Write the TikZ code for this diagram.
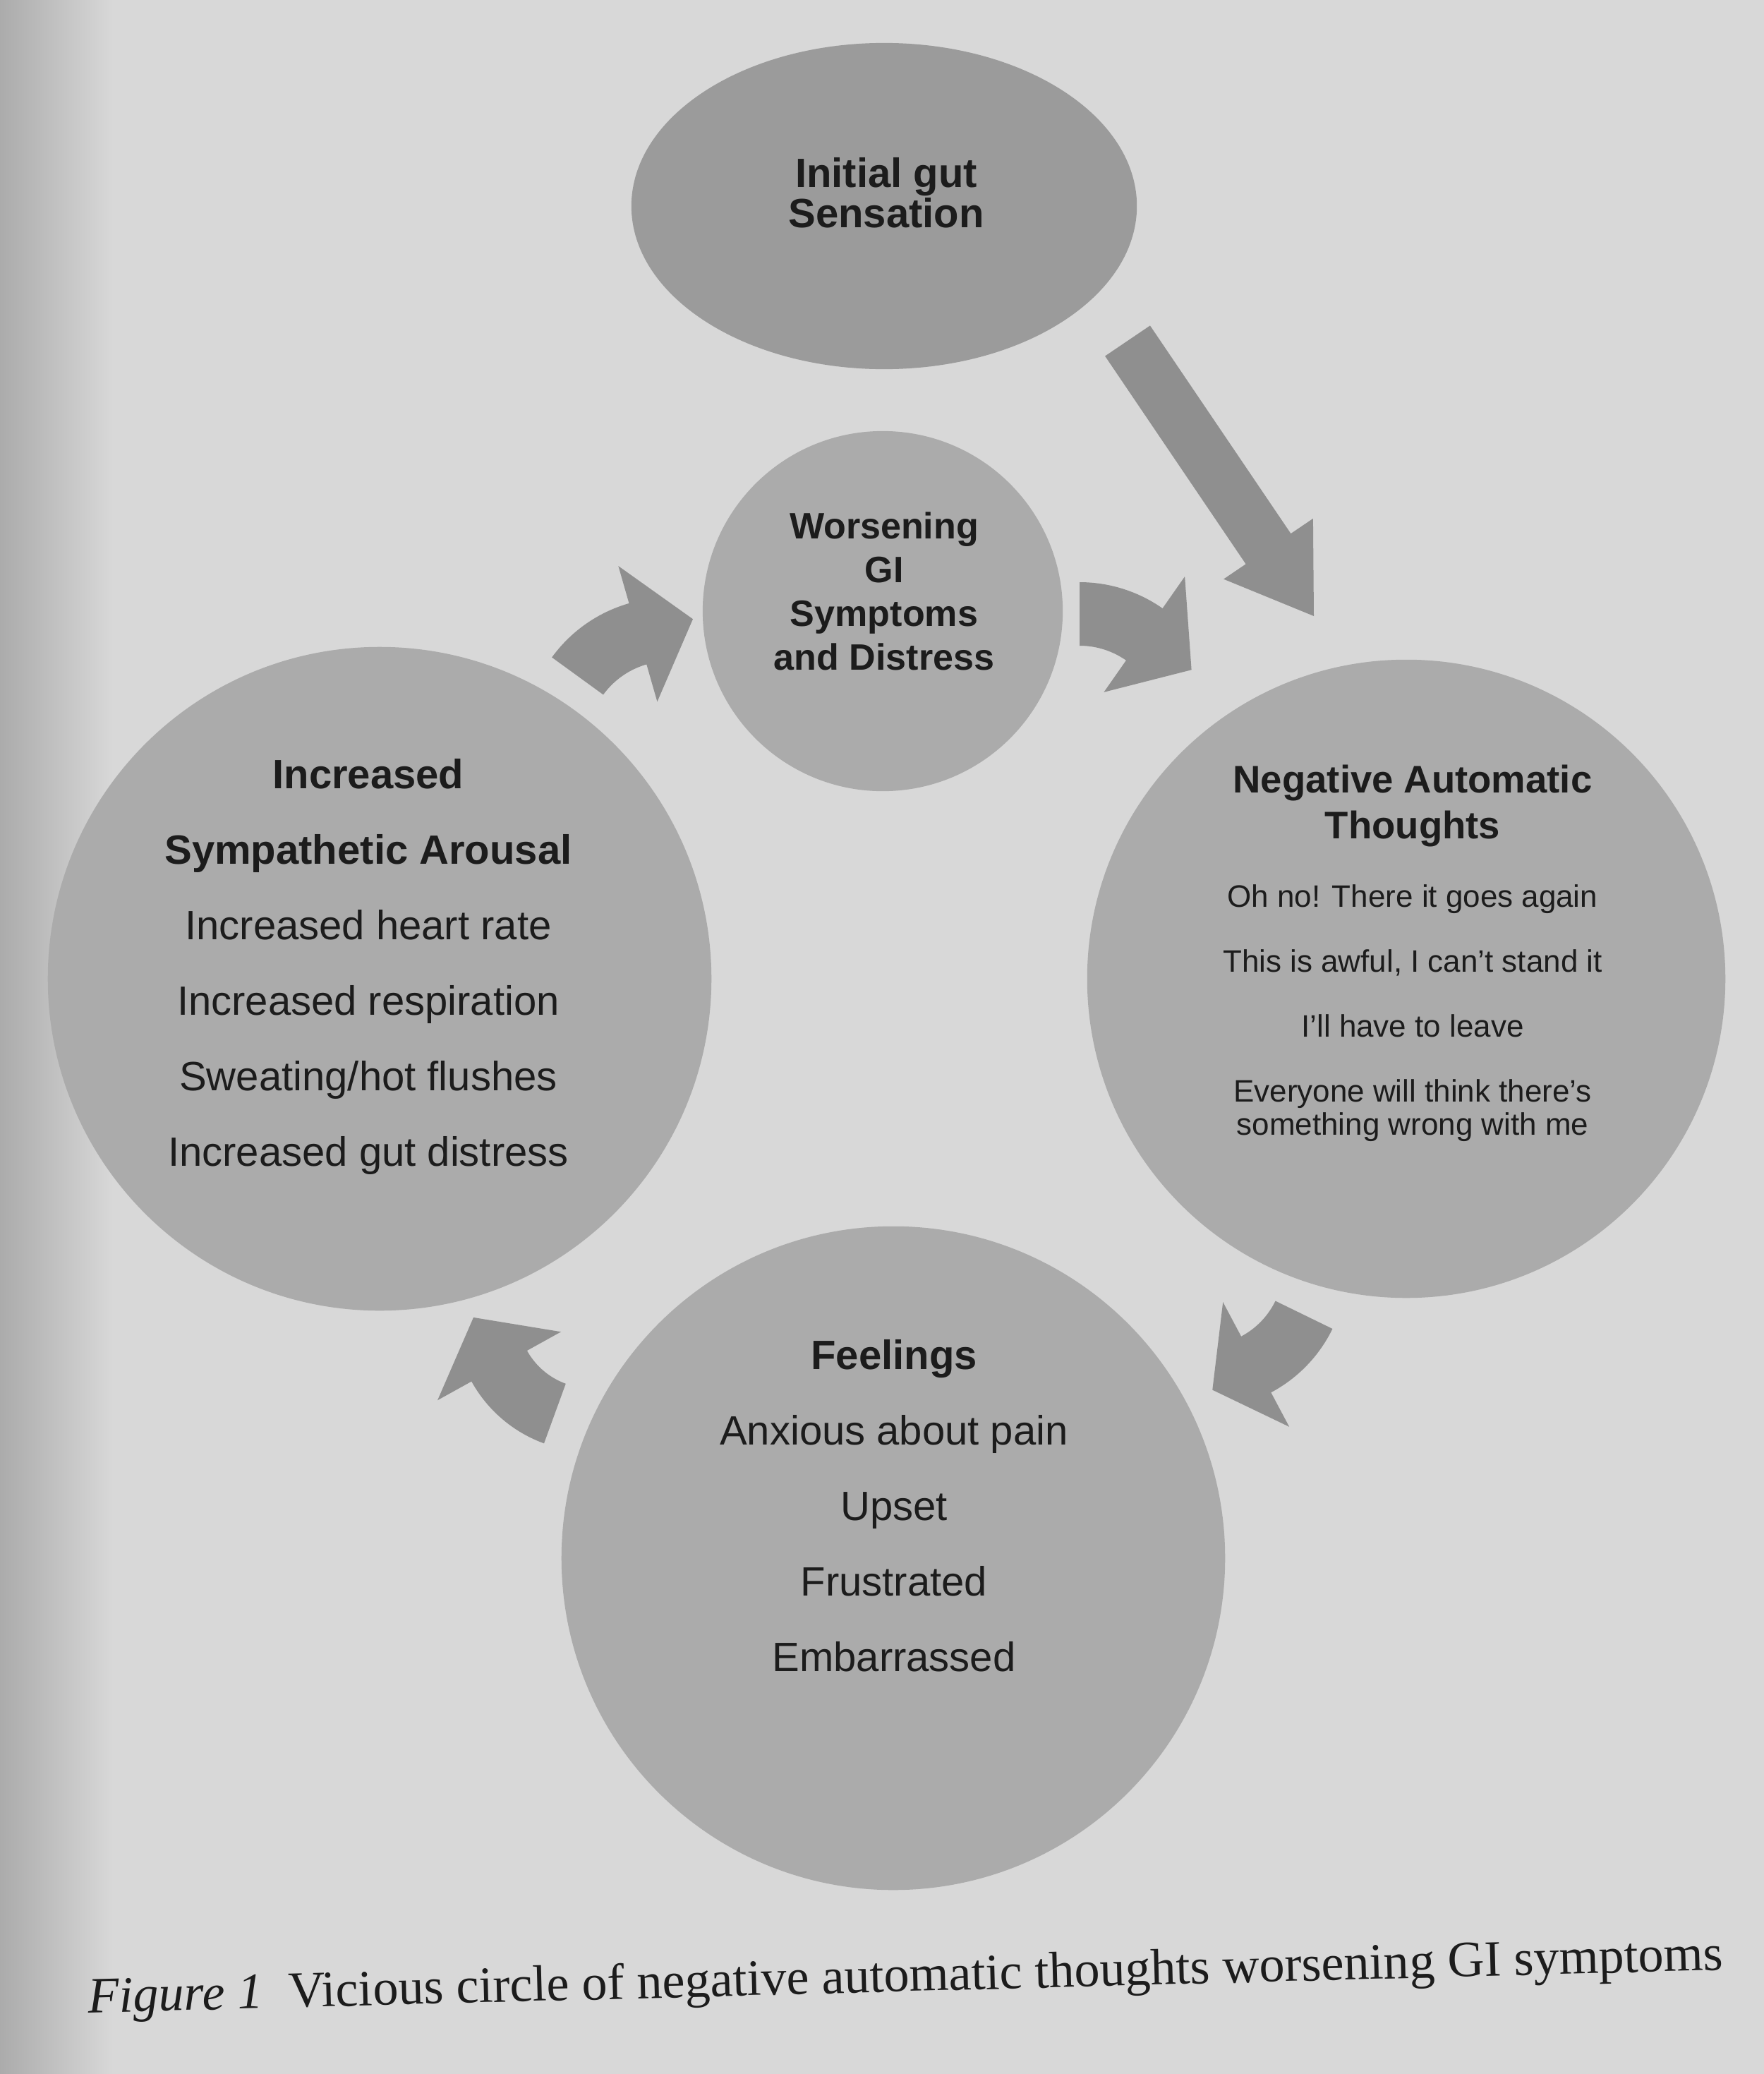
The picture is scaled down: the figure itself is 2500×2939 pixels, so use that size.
\documentclass[tikz,border=0pt]{standalone}
\usepackage{fontspec}
\setmainfont{Liberation Sans}
\newfontfamily\capfont{Liberation Serif}
\usetikzlibrary{shapes.geometric,calc}
\definecolor{paper}{HTML}{D8D8D8}
\definecolor{paperdark}{HTML}{ABABAB}
\definecolor{ovalfill}{HTML}{9B9B9B}
\definecolor{circfill}{HTML}{ABABAB}
\definecolor{arrowfill}{HTML}{8F8F8F}
\definecolor{ink}{HTML}{1C1C1C}
% curved block arrow: centre x, centre y, radius, tail angle, head-base angle, tip angle
\newcommand\cyclearrow[6]{%
  \begin{scope}[shift={(#1,#2)}]
    \fill[arrowfill] plot[domain=#4:#5,samples=25] (\x:{#3+45})
      -- (#5:{#3+100}) -- (#6:{#3+18}) -- (#5:{#3-100})
      -- plot[domain=#5:#4,samples=25] (\x:{#3-45}) -- cycle;
  \end{scope}}
\begin{document}
\begin{tikzpicture}[x=0.01cm,y=-0.01cm,
  blob/.style={circle, fill=circfill, draw=none, inner sep=0pt},
  txt/.style={text=ink, align=center, inner sep=0pt, anchor=north}]
\fill[paper] (0,0) rectangle (2500,2939);
\shade[left color=paperdark, right color=paper] (0,0) rectangle (160,2939);
\useasboundingbox (0,0) rectangle (2500,2939);

% shapes
\node[ellipse, fill=ovalfill, minimum width=7.16cm, minimum height=4.62cm, inner sep=0pt] (gut) at (1253,292) {};
\node[blob, minimum size=5.1cm] (worse) at (1251,866) {};
\node[blob, minimum size=9.04cm] (nat) at (1993,1387) {};
\node[blob, minimum size=9.4cm] (sa) at (538,1387) {};
\node[blob, minimum size=9.4cm] (feel) at (1266,2208) {};

% texts
\node[txt, font=\fontsize{16.5}{16}\selectfont\bfseries] (gutT) at (1256,223) {Initial gut\\Sensation};
\node[txt, font=\fontsize{14.8}{17.6}\selectfont\bfseries] (worseT) at (1253,725) {Worsening\\GI\\Symptoms\\and Distress};
\node[txt, font=\fontsize{15.5}{18.5}\selectfont\bfseries] (natT) at (2002,1083) {Negative Automatic\\Thoughts};
\node[txt, font=\fontsize{12.5}{13.1}\selectfont] (natB) at (2002,1253) {Oh no! There it goes again\\[13.1pt]This is awful, I can't stand it\\[13.1pt]I'll have to leave\\[13.1pt]Everyone will think there's\\something wrong with me};
\node[txt, font=\fontsize{16.5}{30.4}\selectfont] (saT) at (522,1075) {\textbf{Increased}\\\textbf{Sympathetic Arousal}\\Increased heart rate\\Increased respiration\\Sweating/hot flushes\\Increased gut distress};
\node[txt, font=\fontsize{16.5}{30.4}\selectfont] (feelT) at (1267,1898) {\textbf{Feelings}\\Anxious about pain\\Upset\\Frustrated\\Embarrassed};

% straight arrow from the oval
\coordinate (a0) at (1598,483);
\coordinate (a1) at (1862,873);
\coordinate (ab) at ($(a1)!1.15cm!(a0)$);
\fill[arrowfill] ($(a0)!0.385cm!90:(a1)$) -- ($(ab)!0.385cm!90:(a1)$) -- ($(ab)!0.765cm!90:(a1)$) -- (a1)
  -- ($(ab)!0.765cm!-90:(a1)$) -- ($(ab)!0.385cm!-90:(a1)$) -- ($(a0)!0.385cm!-90:(a1)$) -- cycle;

% curved cycle arrows
\cyclearrow{1530}{1030}{160}{-90}{-55}{-27}
\cyclearrow{1706}{1794}{158}{26}{62}{86}
\cyclearrow{837}{1864}{148}{110}{151}{179}
\cyclearrow{948}{1052}{160}{-144}{-106}{-79}

% caption
\node[text=ink, font=\capfont\fontsize{20.5}{25}\selectfont, anchor=base, rotate=1.5, inner sep=0pt] (cap) at (1284,2822) {\textit{Figure 1}\enspace Vicious circle of negative automatic thoughts worsening GI symptoms};
\end{tikzpicture}
\end{document}
